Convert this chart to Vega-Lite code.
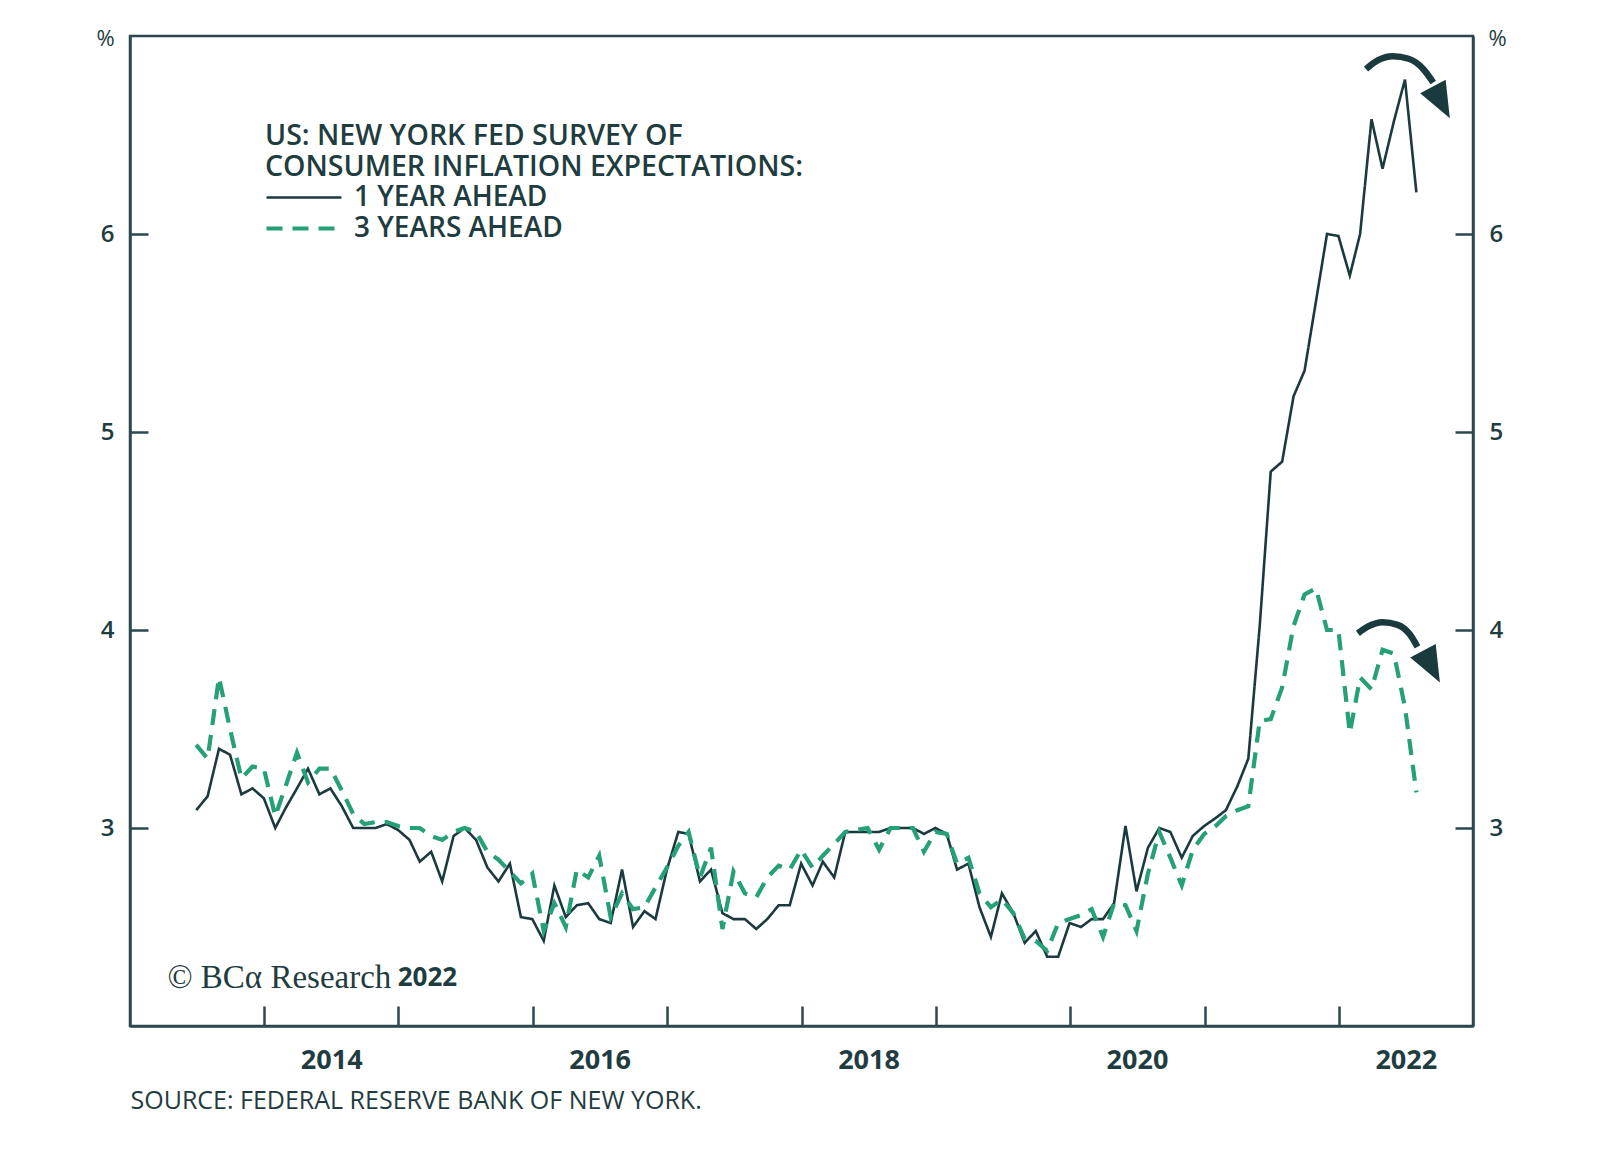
{
  "$schema": "https://vega.github.io/schema/vega-lite/v6.json",
  "width": 1343,
  "height": 990,
  "autosize": {"type": "none"},
  "padding": {"left": 130, "top": 36, "right": 127, "bottom": 125},
  "background": "white",
  "config": {
    "font": "Open Sans",
    "view": {"stroke": "#2b4850", "strokeWidth": 2.5},
    "axis": {
      "domainColor": "#2b4850", "domainWidth": 2.5,
      "tickColor": "#2b4850", "tickWidth": 2.5,
      "grid": false,
      "labelColor": "#1f3c40", "labelFont": "Open Sans", "labelFontWeight": 600,
      "titleColor": "#1f3c40", "titleFont": "Open Sans"
    },
    "legend": {
      "titleFontSize": 28.5, "titleFontWeight": 600, "titleColor": "#1f3c40", "titleLineHeight": 31,
      "titlePadding": 2, "titleLimit": 1200,
      "labelFontSize": 28, "labelFontWeight": 600, "labelColor": "#1f3c40", "labelLimit": 600,
      "rowPadding": 3
    }
  },
  "datasets": {
    "series": [
      {"date":"2013-06-30","series":"1 YEAR AHEAD","value":3.09},
      {"date":"2013-07-31","series":"1 YEAR AHEAD","value":3.16},
      {"date":"2013-08-31","series":"1 YEAR AHEAD","value":3.40},
      {"date":"2013-09-30","series":"1 YEAR AHEAD","value":3.37},
      {"date":"2013-10-31","series":"1 YEAR AHEAD","value":3.17},
      {"date":"2013-11-30","series":"1 YEAR AHEAD","value":3.20},
      {"date":"2013-12-31","series":"1 YEAR AHEAD","value":3.15},
      {"date":"2014-01-31","series":"1 YEAR AHEAD","value":3.00},
      {"date":"2014-02-28","series":"1 YEAR AHEAD","value":3.10},
      {"date":"2014-03-31","series":"1 YEAR AHEAD","value":3.20},
      {"date":"2014-04-30","series":"1 YEAR AHEAD","value":3.30},
      {"date":"2014-05-31","series":"1 YEAR AHEAD","value":3.17},
      {"date":"2014-06-30","series":"1 YEAR AHEAD","value":3.20},
      {"date":"2014-07-31","series":"1 YEAR AHEAD","value":3.11},
      {"date":"2014-08-31","series":"1 YEAR AHEAD","value":3.00},
      {"date":"2014-09-30","series":"1 YEAR AHEAD","value":3.00},
      {"date":"2014-10-31","series":"1 YEAR AHEAD","value":3.00},
      {"date":"2014-11-30","series":"1 YEAR AHEAD","value":3.02},
      {"date":"2014-12-31","series":"1 YEAR AHEAD","value":2.99},
      {"date":"2015-01-31","series":"1 YEAR AHEAD","value":2.94},
      {"date":"2015-02-28","series":"1 YEAR AHEAD","value":2.83},
      {"date":"2015-03-31","series":"1 YEAR AHEAD","value":2.88},
      {"date":"2015-04-30","series":"1 YEAR AHEAD","value":2.73},
      {"date":"2015-05-31","series":"1 YEAR AHEAD","value":2.96},
      {"date":"2015-06-30","series":"1 YEAR AHEAD","value":3.00},
      {"date":"2015-07-31","series":"1 YEAR AHEAD","value":2.94},
      {"date":"2015-08-31","series":"1 YEAR AHEAD","value":2.80},
      {"date":"2015-09-30","series":"1 YEAR AHEAD","value":2.73},
      {"date":"2015-10-31","series":"1 YEAR AHEAD","value":2.82},
      {"date":"2015-11-30","series":"1 YEAR AHEAD","value":2.55},
      {"date":"2015-12-31","series":"1 YEAR AHEAD","value":2.54},
      {"date":"2016-01-31","series":"1 YEAR AHEAD","value":2.43},
      {"date":"2016-02-29","series":"1 YEAR AHEAD","value":2.71},
      {"date":"2016-03-31","series":"1 YEAR AHEAD","value":2.55},
      {"date":"2016-04-30","series":"1 YEAR AHEAD","value":2.61},
      {"date":"2016-05-31","series":"1 YEAR AHEAD","value":2.62},
      {"date":"2016-06-30","series":"1 YEAR AHEAD","value":2.54},
      {"date":"2016-07-31","series":"1 YEAR AHEAD","value":2.52},
      {"date":"2016-08-31","series":"1 YEAR AHEAD","value":2.79},
      {"date":"2016-09-30","series":"1 YEAR AHEAD","value":2.50},
      {"date":"2016-10-31","series":"1 YEAR AHEAD","value":2.58},
      {"date":"2016-11-30","series":"1 YEAR AHEAD","value":2.54},
      {"date":"2016-12-31","series":"1 YEAR AHEAD","value":2.79},
      {"date":"2017-01-31","series":"1 YEAR AHEAD","value":2.98},
      {"date":"2017-02-28","series":"1 YEAR AHEAD","value":2.97},
      {"date":"2017-03-31","series":"1 YEAR AHEAD","value":2.73},
      {"date":"2017-04-30","series":"1 YEAR AHEAD","value":2.79},
      {"date":"2017-05-31","series":"1 YEAR AHEAD","value":2.57},
      {"date":"2017-06-30","series":"1 YEAR AHEAD","value":2.54},
      {"date":"2017-07-31","series":"1 YEAR AHEAD","value":2.54},
      {"date":"2017-08-31","series":"1 YEAR AHEAD","value":2.49},
      {"date":"2017-09-30","series":"1 YEAR AHEAD","value":2.54},
      {"date":"2017-10-31","series":"1 YEAR AHEAD","value":2.61},
      {"date":"2017-11-30","series":"1 YEAR AHEAD","value":2.61},
      {"date":"2017-12-31","series":"1 YEAR AHEAD","value":2.82},
      {"date":"2018-01-31","series":"1 YEAR AHEAD","value":2.71},
      {"date":"2018-02-28","series":"1 YEAR AHEAD","value":2.83},
      {"date":"2018-03-31","series":"1 YEAR AHEAD","value":2.75},
      {"date":"2018-04-30","series":"1 YEAR AHEAD","value":2.98},
      {"date":"2018-05-31","series":"1 YEAR AHEAD","value":2.98},
      {"date":"2018-06-30","series":"1 YEAR AHEAD","value":2.98},
      {"date":"2018-07-31","series":"1 YEAR AHEAD","value":2.98},
      {"date":"2018-08-31","series":"1 YEAR AHEAD","value":3.00},
      {"date":"2018-09-30","series":"1 YEAR AHEAD","value":3.00},
      {"date":"2018-10-31","series":"1 YEAR AHEAD","value":3.00},
      {"date":"2018-11-30","series":"1 YEAR AHEAD","value":2.97},
      {"date":"2018-12-31","series":"1 YEAR AHEAD","value":3.00},
      {"date":"2019-01-31","series":"1 YEAR AHEAD","value":2.97},
      {"date":"2019-02-28","series":"1 YEAR AHEAD","value":2.79},
      {"date":"2019-03-31","series":"1 YEAR AHEAD","value":2.82},
      {"date":"2019-04-30","series":"1 YEAR AHEAD","value":2.60},
      {"date":"2019-05-31","series":"1 YEAR AHEAD","value":2.45},
      {"date":"2019-06-30","series":"1 YEAR AHEAD","value":2.67},
      {"date":"2019-07-31","series":"1 YEAR AHEAD","value":2.57},
      {"date":"2019-08-31","series":"1 YEAR AHEAD","value":2.42},
      {"date":"2019-09-30","series":"1 YEAR AHEAD","value":2.48},
      {"date":"2019-10-31","series":"1 YEAR AHEAD","value":2.35},
      {"date":"2019-11-30","series":"1 YEAR AHEAD","value":2.35},
      {"date":"2019-12-31","series":"1 YEAR AHEAD","value":2.52},
      {"date":"2020-01-31","series":"1 YEAR AHEAD","value":2.50},
      {"date":"2020-02-29","series":"1 YEAR AHEAD","value":2.54},
      {"date":"2020-03-31","series":"1 YEAR AHEAD","value":2.54},
      {"date":"2020-04-30","series":"1 YEAR AHEAD","value":2.62},
      {"date":"2020-05-31","series":"1 YEAR AHEAD","value":3.01},
      {"date":"2020-06-30","series":"1 YEAR AHEAD","value":2.68},
      {"date":"2020-07-31","series":"1 YEAR AHEAD","value":2.90},
      {"date":"2020-08-31","series":"1 YEAR AHEAD","value":3.00},
      {"date":"2020-09-30","series":"1 YEAR AHEAD","value":2.98},
      {"date":"2020-10-31","series":"1 YEAR AHEAD","value":2.85},
      {"date":"2020-11-30","series":"1 YEAR AHEAD","value":2.96},
      {"date":"2020-12-31","series":"1 YEAR AHEAD","value":3.01},
      {"date":"2021-01-31","series":"1 YEAR AHEAD","value":3.05},
      {"date":"2021-02-28","series":"1 YEAR AHEAD","value":3.09},
      {"date":"2021-03-31","series":"1 YEAR AHEAD","value":3.21},
      {"date":"2021-04-30","series":"1 YEAR AHEAD","value":3.35},
      {"date":"2021-05-31","series":"1 YEAR AHEAD","value":4.02},
      {"date":"2021-06-30","series":"1 YEAR AHEAD","value":4.80},
      {"date":"2021-07-31","series":"1 YEAR AHEAD","value":4.85},
      {"date":"2021-08-31","series":"1 YEAR AHEAD","value":5.18},
      {"date":"2021-09-30","series":"1 YEAR AHEAD","value":5.31},
      {"date":"2021-10-31","series":"1 YEAR AHEAD","value":5.66},
      {"date":"2021-11-30","series":"1 YEAR AHEAD","value":6.00},
      {"date":"2021-12-31","series":"1 YEAR AHEAD","value":5.99},
      {"date":"2022-01-31","series":"1 YEAR AHEAD","value":5.79},
      {"date":"2022-02-28","series":"1 YEAR AHEAD","value":6.00},
      {"date":"2022-03-31","series":"1 YEAR AHEAD","value":6.58},
      {"date":"2022-04-30","series":"1 YEAR AHEAD","value":6.33},
      {"date":"2022-05-31","series":"1 YEAR AHEAD","value":6.57},
      {"date":"2022-06-30","series":"1 YEAR AHEAD","value":6.78},
      {"date":"2022-07-31","series":"1 YEAR AHEAD","value":6.21},
      {"date":"2013-06-30","series":"3 YEARS AHEAD","value":3.42},
      {"date":"2013-07-31","series":"3 YEARS AHEAD","value":3.35},
      {"date":"2013-08-31","series":"3 YEARS AHEAD","value":3.76},
      {"date":"2013-09-30","series":"3 YEARS AHEAD","value":3.50},
      {"date":"2013-10-31","series":"3 YEARS AHEAD","value":3.25},
      {"date":"2013-11-30","series":"3 YEARS AHEAD","value":3.31},
      {"date":"2013-12-31","series":"3 YEARS AHEAD","value":3.30},
      {"date":"2014-01-31","series":"3 YEARS AHEAD","value":3.06},
      {"date":"2014-02-28","series":"3 YEARS AHEAD","value":3.21},
      {"date":"2014-03-31","series":"3 YEARS AHEAD","value":3.38},
      {"date":"2014-04-30","series":"3 YEARS AHEAD","value":3.23},
      {"date":"2014-05-31","series":"3 YEARS AHEAD","value":3.30},
      {"date":"2014-06-30","series":"3 YEARS AHEAD","value":3.30},
      {"date":"2014-07-31","series":"3 YEARS AHEAD","value":3.19},
      {"date":"2014-08-31","series":"3 YEARS AHEAD","value":3.07},
      {"date":"2014-09-30","series":"3 YEARS AHEAD","value":3.02},
      {"date":"2014-10-31","series":"3 YEARS AHEAD","value":3.03},
      {"date":"2014-11-30","series":"3 YEARS AHEAD","value":3.03},
      {"date":"2014-12-31","series":"3 YEARS AHEAD","value":3.01},
      {"date":"2015-01-31","series":"3 YEARS AHEAD","value":3.00},
      {"date":"2015-02-28","series":"3 YEARS AHEAD","value":3.00},
      {"date":"2015-03-31","series":"3 YEARS AHEAD","value":2.96},
      {"date":"2015-04-30","series":"3 YEARS AHEAD","value":2.94},
      {"date":"2015-05-31","series":"3 YEARS AHEAD","value":2.98},
      {"date":"2015-06-30","series":"3 YEARS AHEAD","value":3.00},
      {"date":"2015-07-31","series":"3 YEARS AHEAD","value":2.98},
      {"date":"2015-08-31","series":"3 YEARS AHEAD","value":2.88},
      {"date":"2015-09-30","series":"3 YEARS AHEAD","value":2.84},
      {"date":"2015-10-31","series":"3 YEARS AHEAD","value":2.78},
      {"date":"2015-11-30","series":"3 YEARS AHEAD","value":2.72},
      {"date":"2015-12-31","series":"3 YEARS AHEAD","value":2.77},
      {"date":"2016-01-31","series":"3 YEARS AHEAD","value":2.48},
      {"date":"2016-02-29","series":"3 YEARS AHEAD","value":2.62},
      {"date":"2016-03-31","series":"3 YEARS AHEAD","value":2.50},
      {"date":"2016-04-30","series":"3 YEARS AHEAD","value":2.79},
      {"date":"2016-05-31","series":"3 YEARS AHEAD","value":2.75},
      {"date":"2016-06-30","series":"3 YEARS AHEAD","value":2.86},
      {"date":"2016-07-31","series":"3 YEARS AHEAD","value":2.55},
      {"date":"2016-08-31","series":"3 YEARS AHEAD","value":2.67},
      {"date":"2016-09-30","series":"3 YEARS AHEAD","value":2.59},
      {"date":"2016-10-31","series":"3 YEARS AHEAD","value":2.60},
      {"date":"2016-11-30","series":"3 YEARS AHEAD","value":2.70},
      {"date":"2016-12-31","series":"3 YEARS AHEAD","value":2.80},
      {"date":"2017-01-31","series":"3 YEARS AHEAD","value":2.91},
      {"date":"2017-02-28","series":"3 YEARS AHEAD","value":2.98},
      {"date":"2017-03-31","series":"3 YEARS AHEAD","value":2.75},
      {"date":"2017-04-30","series":"3 YEARS AHEAD","value":2.90},
      {"date":"2017-05-31","series":"3 YEARS AHEAD","value":2.49},
      {"date":"2017-06-30","series":"3 YEARS AHEAD","value":2.78},
      {"date":"2017-07-31","series":"3 YEARS AHEAD","value":2.67},
      {"date":"2017-08-31","series":"3 YEARS AHEAD","value":2.65},
      {"date":"2017-09-30","series":"3 YEARS AHEAD","value":2.75},
      {"date":"2017-10-31","series":"3 YEARS AHEAD","value":2.81},
      {"date":"2017-11-30","series":"3 YEARS AHEAD","value":2.79},
      {"date":"2017-12-31","series":"3 YEARS AHEAD","value":2.89},
      {"date":"2018-01-31","series":"3 YEARS AHEAD","value":2.80},
      {"date":"2018-02-28","series":"3 YEARS AHEAD","value":2.86},
      {"date":"2018-03-31","series":"3 YEARS AHEAD","value":2.92},
      {"date":"2018-04-30","series":"3 YEARS AHEAD","value":2.98},
      {"date":"2018-05-31","series":"3 YEARS AHEAD","value":2.99},
      {"date":"2018-06-30","series":"3 YEARS AHEAD","value":3.00},
      {"date":"2018-07-31","series":"3 YEARS AHEAD","value":2.89},
      {"date":"2018-08-31","series":"3 YEARS AHEAD","value":3.00},
      {"date":"2018-09-30","series":"3 YEARS AHEAD","value":3.00},
      {"date":"2018-10-31","series":"3 YEARS AHEAD","value":3.00},
      {"date":"2018-11-30","series":"3 YEARS AHEAD","value":2.88},
      {"date":"2018-12-31","series":"3 YEARS AHEAD","value":2.98},
      {"date":"2019-01-31","series":"3 YEARS AHEAD","value":2.97},
      {"date":"2019-02-28","series":"3 YEARS AHEAD","value":2.82},
      {"date":"2019-03-31","series":"3 YEARS AHEAD","value":2.85},
      {"date":"2019-04-30","series":"3 YEARS AHEAD","value":2.67},
      {"date":"2019-05-31","series":"3 YEARS AHEAD","value":2.60},
      {"date":"2019-06-30","series":"3 YEARS AHEAD","value":2.64},
      {"date":"2019-07-31","series":"3 YEARS AHEAD","value":2.57},
      {"date":"2019-08-31","series":"3 YEARS AHEAD","value":2.44},
      {"date":"2019-09-30","series":"3 YEARS AHEAD","value":2.43},
      {"date":"2019-10-31","series":"3 YEARS AHEAD","value":2.38},
      {"date":"2019-11-30","series":"3 YEARS AHEAD","value":2.52},
      {"date":"2019-12-31","series":"3 YEARS AHEAD","value":2.54},
      {"date":"2020-01-31","series":"3 YEARS AHEAD","value":2.56},
      {"date":"2020-02-29","series":"3 YEARS AHEAD","value":2.59},
      {"date":"2020-03-31","series":"3 YEARS AHEAD","value":2.45},
      {"date":"2020-04-30","series":"3 YEARS AHEAD","value":2.62},
      {"date":"2020-05-31","series":"3 YEARS AHEAD","value":2.61},
      {"date":"2020-06-30","series":"3 YEARS AHEAD","value":2.48},
      {"date":"2020-07-31","series":"3 YEARS AHEAD","value":2.77},
      {"date":"2020-08-31","series":"3 YEARS AHEAD","value":2.98},
      {"date":"2020-09-30","series":"3 YEARS AHEAD","value":2.85},
      {"date":"2020-10-31","series":"3 YEARS AHEAD","value":2.71},
      {"date":"2020-11-30","series":"3 YEARS AHEAD","value":2.89},
      {"date":"2020-12-31","series":"3 YEARS AHEAD","value":2.97},
      {"date":"2021-01-31","series":"3 YEARS AHEAD","value":3.01},
      {"date":"2021-02-28","series":"3 YEARS AHEAD","value":3.06},
      {"date":"2021-03-31","series":"3 YEARS AHEAD","value":3.09},
      {"date":"2021-04-30","series":"3 YEARS AHEAD","value":3.11},
      {"date":"2021-05-31","series":"3 YEARS AHEAD","value":3.54},
      {"date":"2021-06-30","series":"3 YEARS AHEAD","value":3.55},
      {"date":"2021-07-31","series":"3 YEARS AHEAD","value":3.71},
      {"date":"2021-08-31","series":"3 YEARS AHEAD","value":4.02},
      {"date":"2021-09-30","series":"3 YEARS AHEAD","value":4.18},
      {"date":"2021-10-31","series":"3 YEARS AHEAD","value":4.21},
      {"date":"2021-11-30","series":"3 YEARS AHEAD","value":4.00},
      {"date":"2021-12-31","series":"3 YEARS AHEAD","value":4.00},
      {"date":"2022-01-31","series":"3 YEARS AHEAD","value":3.48},
      {"date":"2022-02-28","series":"3 YEARS AHEAD","value":3.76},
      {"date":"2022-03-31","series":"3 YEARS AHEAD","value":3.70},
      {"date":"2022-04-30","series":"3 YEARS AHEAD","value":3.90},
      {"date":"2022-05-31","series":"3 YEARS AHEAD","value":3.88},
      {"date":"2022-06-30","series":"3 YEARS AHEAD","value":3.61},
      {"date":"2022-07-31","series":"3 YEARS AHEAD","value":3.18}
    ],
    "arrows": [
      {"arrow":"top","date":"2022-03-16","value":6.833},
      {"arrow":"top","date":"2022-04-18","value":6.878},
      {"arrow":"top","date":"2022-05-28","value":6.898},
      {"arrow":"top","date":"2022-07-10","value":6.885},
      {"arrow":"top","date":"2022-08-18","value":6.835},
      {"arrow":"top","date":"2022-09-15","value":6.765},
      {"arrow":"bottom","date":"2022-02-22","value":3.983},
      {"arrow":"bottom","date":"2022-03-22","value":4.018},
      {"arrow":"bottom","date":"2022-04-30","value":4.039},
      {"arrow":"bottom","date":"2022-06-10","value":4.026},
      {"arrow":"bottom","date":"2022-07-13","value":3.978},
      {"arrow":"bottom","date":"2022-08-03","value":3.915}
    ],
    "heads": [
      {"arrow":"top","date":"2022-10-07","value":6.665},
      {"arrow":"bottom","date":"2022-09-10","value":3.815}
    ],
    "credit": [
      {"date":"2013-04-13","value":2.244,"label":"© BCα Research"}
    ],
    "creditYear": [
      {"date":"2014-12-30","value":2.244,"label":"2022"}
    ]
  },
  "resolve": {"axis": {"y": "independent"}},
  "layer": [
    {
      "data": {"name": "series"},
      "mark": {"type": "line", "strokeJoin": "miter", "strokeCap": "butt"},
      "encoding": {
        "x": {
          "field": "date", "type": "temporal",
          "scale": {"type": "utc", "domain": [{"year": 2013, "month": 1, "date": 1, "utc": true}, {"year": 2023, "month": 1, "date": 1, "utc": true}]},
          "axis": {
            "values": [
              {"year": 2014, "month": 1, "date": 1, "utc": true},
              {"year": 2015, "month": 1, "date": 1, "utc": true},
              {"year": 2016, "month": 1, "date": 1, "utc": true},
              {"year": 2017, "month": 1, "date": 1, "utc": true},
              {"year": 2018, "month": 1, "date": 1, "utc": true},
              {"year": 2019, "month": 1, "date": 1, "utc": true},
              {"year": 2020, "month": 1, "date": 1, "utc": true},
              {"year": 2021, "month": 1, "date": 1, "utc": true},
              {"year": 2022, "month": 1, "date": 1, "utc": true}
            ],
            "tickSize": -20,
            "labelExpr": "utcyear(datum.value) % 2 == 0 ? utcFormat(datum.value, '%Y') : ''",
            "labelOffset": 67,
            "labelPadding": 54,
            "labelFlush": false,
            "labelOverlap": false,
            "labelFontSize": 27,
            "labelFontWeight": 700,
            "labelBaseline": "middle",
            "title": "SOURCE: FEDERAL RESERVE BANK OF NEW YORK.",
            "titleX": 0,
            "titleY": 74,
            "titleAlign": "left",
            "titleAnchor": "start",
            "titleBaseline": "middle",
            "titleFontSize": 25,
            "titleFontWeight": 500
          }
        },
        "y": {
          "field": "value", "type": "quantitative",
          "scale": {"domain": [2, 7], "nice": false, "zero": false},
          "axis": {
            "orient": "left",
            "values": [3, 4, 5, 6],
            "tickSize": -18,
            "labelPadding": 34,
            "labelFontSize": 24,
            "labelFontWeight": 600,
            "title": "%",
            "titleAngle": 0,
            "titleX": -25,
            "titleY": 2,
            "titleAlign": "center",
            "titleBaseline": "middle",
            "titleFontSize": 22,
            "titleFontWeight": 400
          }
        },
        "color": {
          "field": "series", "type": "nominal",
          "scale": {"domain": ["1 YEAR AHEAD", "3 YEARS AHEAD"], "range": ["#1b3a3e", "#25a078"]},
          "legend": {
            "title": ["US: NEW YORK FED SURVEY OF", "CONSUMER INFLATION EXPECTATIONS:"],
            "orient": "none", "legendX": 135, "legendY": 86,
            "symbolType": "M-2,0H10", "symbolSize": 156, "labelOffset": 61
          }
        },
        "strokeDash": {
          "field": "series", "type": "nominal",
          "scale": {"domain": ["1 YEAR AHEAD", "3 YEARS AHEAD"], "range": [[1, 0], [16, 10]]},
          "legend": {
            "title": ["US: NEW YORK FED SURVEY OF", "CONSUMER INFLATION EXPECTATIONS:"],
            "orient": "none", "legendX": 135, "legendY": 86,
            "symbolType": "M-2,0H10", "symbolSize": 156, "labelOffset": 61
          }
        },
        "strokeWidth": {
          "field": "series", "type": "ordinal",
          "scale": {"domain": ["1 YEAR AHEAD", "3 YEARS AHEAD"], "range": [2.6, 4.2]},
          "legend": {
            "title": ["US: NEW YORK FED SURVEY OF", "CONSUMER INFLATION EXPECTATIONS:"],
            "orient": "none", "legendX": 135, "legendY": 86,
            "symbolType": "M-2,0H10", "symbolSize": 156, "labelOffset": 61
          }
        }
      }
    },
    {
      "data": {"name": "arrows"},
      "mark": {"type": "line", "color": "#1b3a3e", "strokeWidth": 6.5, "strokeCap": "butt", "interpolate": "monotone"},
      "encoding": {
        "x": {"field": "date", "type": "temporal"},
        "y": {
          "field": "value", "type": "quantitative",
          "axis": {
            "orient": "right",
            "values": [3, 4, 5, 6],
            "tickSize": -18,
            "labelPadding": 34,
            "labelFontSize": 24,
            "labelFontWeight": 600,
            "title": "%",
            "titleAngle": 0,
            "titleX": 24,
            "titleY": 2,
            "titleAlign": "center",
            "titleBaseline": "middle",
            "titleFontSize": 22,
            "titleFontWeight": 400
          }
        },
        "detail": {"field": "arrow", "type": "nominal"}
      }
    },
    {
      "data": {"name": "heads"},
      "mark": {"type": "point", "shape": "M-0.8,-1L0.8,-1L0,1Z", "filled": true, "opacity": 1, "color": "#1b3a3e", "size": 1300, "angle": -28},
      "encoding": {
        "x": {"field": "date", "type": "temporal"},
        "y": {"field": "value", "type": "quantitative", "axis": null}
      }
    },
    {
      "data": {"name": "credit"},
      "mark": {"type": "text", "font": "Liberation Serif", "fontSize": 33, "align": "left", "baseline": "middle", "color": "#1f3c40"},
      "encoding": {
        "x": {"field": "date", "type": "temporal"},
        "y": {"field": "value", "type": "quantitative", "axis": null},
        "text": {"field": "label"}
      }
    },
    {
      "data": {"name": "creditYear"},
      "mark": {"type": "text", "font": "Open Sans", "fontSize": 26, "fontWeight": 700, "align": "left", "baseline": "middle", "color": "#1f3c40"},
      "encoding": {
        "x": {"field": "date", "type": "temporal"},
        "y": {"field": "value", "type": "quantitative", "axis": null},
        "text": {"field": "label"}
      }
    }
  ]
}
